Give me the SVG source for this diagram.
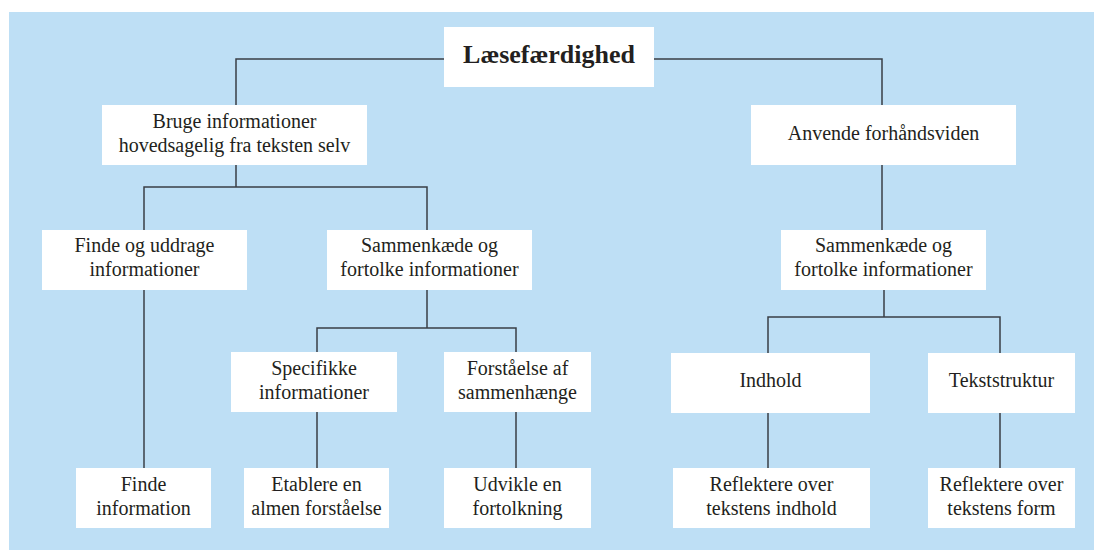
<svg xmlns="http://www.w3.org/2000/svg" width="1094" height="550" viewBox="0 0 1094 550">
<style>
.bg{fill:#bedff5}
.box{fill:#ffffff}
.t{font-family:"Liberation Serif","Times New Roman",serif;font-size:20px;fill:#231f20;text-anchor:middle}
.title{font-family:"Liberation Serif","Times New Roman",serif;font-size:26px;font-weight:bold;fill:#231f20;text-anchor:middle}
.c{fill:none;stroke:#3a3f46;stroke-width:1.5}
</style>
<rect width="1094" height="550" fill="#ffffff"/>
<rect class="bg" x="9" y="12" width="1085" height="538"/>
<g id="connectors" class="c">
<path d="M236,105 V59 H444 M654,59 H882 V105"/>
<path d="M236,165 V187 M144,230 V187 H427 V230"/>
<path d="M144,290 V468"/>
<path d="M427,290 V328 M317,352 V328 H516 V352"/>
<path d="M317,412 V468 M516,412 V468"/>
<path d="M882,165 V230"/>
<path d="M884,290 V317 M768,353 V317 H1000 V353"/>
<path d="M768,413 V468 M1000,413 V468"/>
</g>
<g id="n-root"><rect class="box" x="444" y="27" width="210" height="60"/><text class="title" x="549" y="63">Læsefærdighed</text></g>
<g id="n-bruge"><rect class="box" x="102" y="105" width="265" height="60"/><text class="t" x="234.5" y="128">Bruge informationer</text><text class="t" x="234.5" y="152">hovedsagelig fra teksten selv</text></g>
<g id="n-anvende"><rect class="box" x="751" y="105" width="265" height="60"/><text class="t" x="883.5" y="140">Anvende forhåndsviden</text></g>
<g id="n-finde-uddrage"><rect class="box" x="42" y="230" width="205" height="60"/><text class="t" x="144.5" y="252">Finde og uddrage</text><text class="t" x="144.5" y="276">informationer</text></g>
<g id="n-sammen-l"><rect class="box" x="327" y="230" width="205" height="60"/><text class="t" x="429.5" y="252">Sammenkæde og</text><text class="t" x="429.5" y="276">fortolke informationer</text></g>
<g id="n-sammen-r"><rect class="box" x="781" y="230" width="205" height="60"/><text class="t" x="883.5" y="252">Sammenkæde og</text><text class="t" x="883.5" y="276">fortolke informationer</text></g>
<g id="n-specifikke"><rect class="box" x="231" y="352" width="166" height="60"/><text class="t" x="314" y="375">Specifikke</text><text class="t" x="314" y="398.5">informationer</text></g>
<g id="n-forstaaelse"><rect class="box" x="444" y="352" width="147" height="60"/><text class="t" x="517.5" y="375">Forståelse af</text><text class="t" x="517.5" y="398.5">sammenhænge</text></g>
<g id="n-indhold"><rect class="box" x="671" y="353" width="199" height="60"/><text class="t" x="770.5" y="387">Indhold</text></g>
<g id="n-tekststruktur"><rect class="box" x="928" y="353" width="147" height="60"/><text class="t" x="1001.5" y="387">Tekststruktur</text></g>
<g id="n-finde-info"><rect class="box" x="76" y="468" width="135" height="60"/><text class="t" x="143.5" y="491">Finde</text><text class="t" x="143.5" y="514.5">information</text></g>
<g id="n-etablere"><rect class="box" x="244" y="468" width="145" height="60"/><text class="t" x="316.5" y="491">Etablere en</text><text class="t" x="316.5" y="514.5">almen forståelse</text></g>
<g id="n-udvikle"><rect class="box" x="444" y="468" width="147" height="60"/><text class="t" x="517.5" y="491">Udvikle en</text><text class="t" x="517.5" y="514.5">fortolkning</text></g>
<g id="n-refl-indhold"><rect class="box" x="673" y="468" width="197" height="60"/><text class="t" x="771.5" y="491">Reflektere over</text><text class="t" x="771.5" y="514.5">tekstens indhold</text></g>
<g id="n-refl-form"><rect class="box" x="928" y="468" width="147" height="60"/><text class="t" x="1001.5" y="491">Reflektere over</text><text class="t" x="1001.5" y="514.5">tekstens form</text></g>
</svg>
